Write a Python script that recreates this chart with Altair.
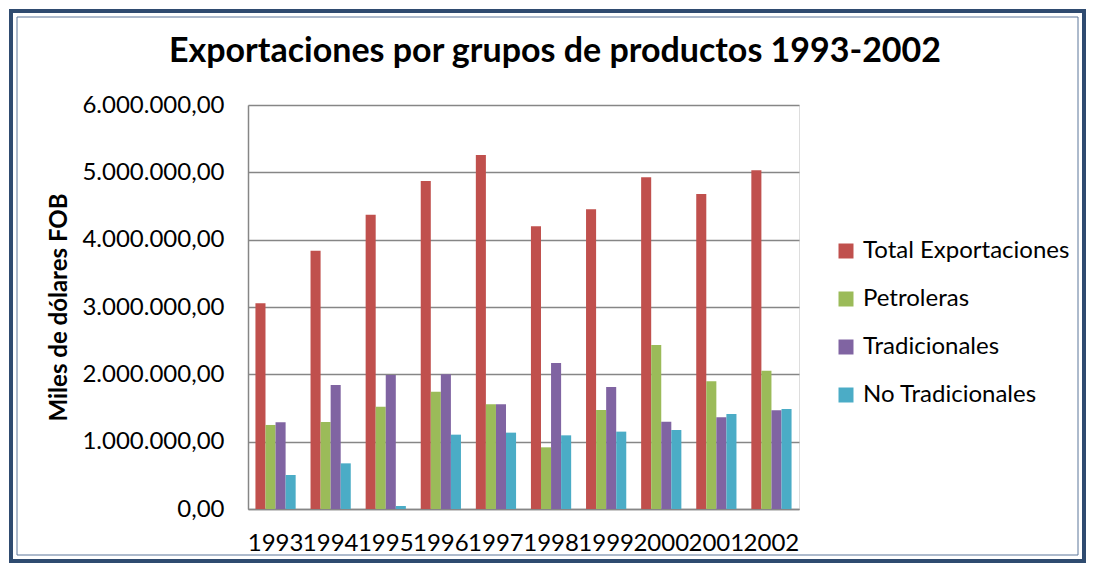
import altair as alt
import pandas as pd

years = ["1993", "1994", "1995", "1996", "1997", "1998", "1999", "2000", "2001", "2002"]
series = ["Total Exportaciones", "Petroleras", "Tradicionales", "No Tradicionales"]
colors = ["#C0504D", "#9BBB59", "#8064A2", "#4BACC6"]
title_text = "Exportaciones por grupos de productos 1993-2002"

total = [3054000, 3837000, 4371000, 4871000, 5257000, 4198000, 4450000, 4926000, 4678000, 5030000]
petroleras = [1248000, 1292000, 1520000, 1743000, 1554000, 916000, 1470000, 2436000, 1896000, 2054000]
tradicionales = [1287000, 1842000, 1990000, 2000000, 1554000, 2168000, 1812000, 1297000, 1361000, 1465000]
no_tradicionales = [505000, 678000, 45000, 1104000, 1134000, 1094000, 1149000, 1173000, 1411000, 1485000]

values = [total, petroleras, tradicionales, no_tradicionales]
rows = []
for s, vals in zip(series, values):
    for y, v in zip(years, vals):
        rows.append({"Año": y, "Serie": s, "Valor": v})
df = pd.DataFrame(rows)

FONT = "Lato"

bars = alt.Chart(df).mark_bar().encode(
    x=alt.X("Año:N", sort=years,
            scale=alt.Scale(paddingInner=0.27, paddingOuter=0.135),
            axis=alt.Axis(title=None, labelAngle=0, labelFontSize=24, labelFont=FONT,
                          labelColor="#000000", labelPadding=22, ticks=False,
                          domainColor="#868686", domainWidth=1.5)),
    xOffset=alt.XOffset("Serie:N", sort=series),
    y=alt.Y("Valor:Q", scale=alt.Scale(domain=[0, 6000000]),
            axis=alt.Axis(title="Miles de dólares FOB", titleFontSize=24, titleFont=FONT,
                          titleFontWeight="bold", titleColor="#000000", titlePadding=10,
                          values=[0, 1000000, 2000000, 3000000, 4000000, 5000000, 6000000],
                          labelExpr="datum.value == 0 ? '0,00' : format(datum.value / 1000000, 'd') + '.000.000,00'",
                          labelFontSize=24, labelFont=FONT, labelColor="#000000",
                          labelPadding=24, ticks=False, grid=True, gridColor="#868686",
                          gridWidth=1.5, domainColor="#868686", domainWidth=1.5)),
    color=alt.Color("Serie:N", sort=series,
                    scale=alt.Scale(domain=series, range=colors),
                    legend=alt.Legend(title=None, orient="none", legendX=586, legendY=134,
                                      symbolType="square", symbolSize=225,
                                      symbolStrokeWidth=0, labelFontSize=24,
                                      labelFont=FONT, labelColor="#000000", labelLimit=0,
                                      labelOffset=5, rowPadding=24)),
)

title_df = pd.DataFrame({"t": [title_text]})
title = alt.Chart(title_df).mark_text(font=FONT, fontSize=34, fontWeight="bold",
                                      color="#000000", align="center",
                                      baseline="middle").encode(
    text="t:N", x=alt.value(307), y=alt.value(-53))

frame_df = pd.DataFrame({"k": [0]})
outer = alt.Chart(frame_df).mark_rect(fillOpacity=0, stroke="#2F4B70", strokeWidth=4).encode(
    x=alt.value(-237), x2=alt.value(836), y=alt.value(-94), y2=alt.value(456))
inner = alt.Chart(frame_df).mark_rect(fillOpacity=0, stroke="#5C769A", strokeWidth=1).encode(
    x=alt.value(-231), x2=alt.value(830), y=alt.value(-88), y2=alt.value(450))

chart = alt.layer(bars, title, outer, inner).properties(
    width=551, height=404,
    autosize=alt.AutoSizeParams(type="none"),
    padding={"left": 240, "top": 97, "right": 288, "bottom": 55},
).configure_view(stroke="transparent", strokeWidth=0).configure(background="white")

chart.save("out.html", embed_options={"renderer": "svg", "actions": False})
